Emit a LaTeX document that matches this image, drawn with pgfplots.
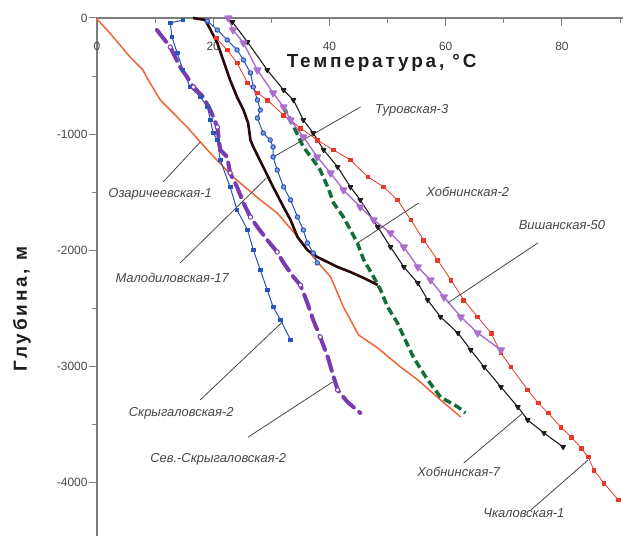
\documentclass[border=0pt]{standalone}
\usepackage{pgfplots}
\pgfplotsset{compat=1.18}
\usepackage{fontspec}
\setmainfont{Liberation Sans}
\definecolor{axgray}{RGB}{125,125,125}
\definecolor{txgray}{RGB}{70,70,70}
\definecolor{cOrange}{RGB}{240,100,55}
\definecolor{cBlue}{RGB}{40,85,185}
\definecolor{cBlueL}{RGB}{130,160,225}
\definecolor{cBrown}{RGB}{40,8,8}
\definecolor{cPurD}{RGB}{120,60,175}
\definecolor{cGreen}{RGB}{20,110,60}
\definecolor{cPurL}{RGB}{170,110,205}
\definecolor{cBlack}{RGB}{30,30,30}
\definecolor{cRed}{RGB}{235,55,40}
\begin{document}
\begin{tikzpicture}
\begin{axis}[
  scale only axis, width=526bp, height=518bp,
  xmin=0, xmax=90.5, ymin=-4458, ymax=0,
  axis x line=top, axis y line=left,
  axis line style={-, draw=axgray, line width=1.2bp},
  clip=false,
  xtick={0,20,40,60,80}, minor xtick={10,30,50,70,90},
  ytick={0,-1000,-2000,-3000,-4000}, minor ytick={-500,-1500,-2500,-3500},
  tick align=inside, major tick length=8bp, minor tick length=5.5bp,
  tick style={draw=axgray, line width=1bp},
  major y tick style={xshift=-8bp},
  minor y tick style={xshift=-5.5bp},
  /pgf/number format/assume math mode=true,
  /pgf/number format/1000 sep={},
  scaled y ticks=false,
  tick label style={font=\fontsize{12}{14}\selectfont, text=txgray},
  xticklabel style={anchor=north, yshift=-21bp},
  yticklabel style={xshift=-6bp},
  every axis plot/.append style={line join=round},
]
% Озаричеевская-1
\addplot[cOrange, line width=1.5bp, no marks] coordinates {
(0,0) (0,-9) (2.2,-129) (5.7,-336) (7.9,-447) (8.6,-516) (10.9,-706) (15.5,-938)
(19.0,-1136) (23.4,-1368) (28.1,-1566) (31.0,-1678) (35.0,-1911) (37.2,-2057)
(40.2,-2229) (42.4,-2487) (45.0,-2728) (48.3,-2840) (52.2,-3003) (55.2,-3115)
(59.1,-3287) (62.6,-3434)};
% Чкаловская-1
\addplot[cRed, line width=0.8bp, mark=square*, mark size=1.9bp] coordinates {
(20.5,-172) (22.4,-275) (24.1,-387) (25.9,-559) (27.6,-645) (29.3,-706) (32.1,-835)
(35.0,-947) (37.9,-1050) (40.7,-1136) (43.6,-1222) (46.6,-1368) (49.3,-1454)
(51.7,-1566) (54.0,-1738) (56.2,-1911) (58.6,-2083) (60.9,-2255) (63.1,-2427)
(65.5,-2573) (67.8,-2711) (69.5,-2883) (71.2,-3003) (74.1,-3201) (75.9,-3313)
(77.6,-3399) (79.8,-3520) (81.6,-3606) (83.3,-3701) (84.5,-3778) (85.5,-3890)
(87.2,-4002) (89.7,-4148)};
% Хобнинская-7
\addplot[cBlack, line width=1.1bp, mark=triangle*, mark size=2.6bp, mark options={rotate=180}] coordinates {
(23.3,-34) (25.9,-207) (29.3,-448) (32.1,-620) (33.8,-706) (35.5,-878) (37.2,-990)
(39.0,-1136) (41.4,-1282) (43.6,-1454) (45.3,-1566) (48.3,-1799) (50.5,-1971)
(52.8,-2143) (55.2,-2281) (56.9,-2427) (59.1,-2573) (62.1,-2711) (64.3,-2857)
(66.6,-3003) (69.5,-3176) (72.4,-3348) (74.1,-3460) (76.9,-3571) (80.2,-3692)};
% Хобнинская-2
\addplot[cGreen, line width=3.5bp, dash pattern=on 8bp off 4bp, no marks] coordinates {
(32.0,-760) (33.3,-878) (35.5,-1110) (37.2,-1222) (38.4,-1308)
(39.7,-1454) (40.7,-1592) (42.4,-1713) (43.6,-1824) (44.8,-1936) (45.9,-2083)
(47.6,-2229) (48.8,-2341) (50.0,-2487) (51.7,-2625) (52.8,-2745) (54.5,-2926)
(56.9,-3115) (59.1,-3262) (62.1,-3348) (63.4,-3399)};
% Скрыгаловская-2
\addplot[cBlue, line width=1bp, mark=square*, mark size=1.9bp] coordinates {
(14.8,-17) (12.6,-43) (12.9,-164) (13.8,-301) (14.8,-448) (16.0,-594) (17.8,-680)
(19.0,-766) (19.5,-878) (20.0,-990) (20.7,-1050) (21.2,-1222) (22.9,-1454)
(24.1,-1652) (25.9,-1824) (26.9,-1997) (28.1,-2169) (29.3,-2341) (30.3,-2487)
(31.6,-2599) (33.3,-2771)};
% Сев.-Скрыгаловская-2
\addplot[cPurD, line width=4bp, dash pattern=on 15bp off 7bp, line cap=round,
  mark=*, mark size=2.2bp, mark repeat=3, mark phase=2,
  mark options={solid, fill=white, draw=cPurD, line width=1bp}] coordinates {
(10.3,-103) (12.6,-250) (14.3,-422) (15.5,-508) (16.6,-594) (18.3,-680) (19.5,-792)
(20.7,-938) (21.2,-1136) (22.4,-1196) (22.9,-1334) (24.1,-1454) (25.2,-1592)
(26.4,-1713) (27.6,-1799) (29.3,-1911) (31.0,-2014) (32.1,-2108) (33.8,-2229)
(35.0,-2298) (36.2,-2453) (37.2,-2599) (38.4,-2745) (39.7,-2917) (40.2,-3003)
(41.4,-3201) (43.1,-3305) (45.3,-3399)};
% Малодиловская-17
\addplot[cBrown, line width=2.6bp, no marks] coordinates {
(16.5,0) (18.6,-17) (19.1,-60) (20.7,-215) (21.7,-361) (22.9,-534) (24.1,-680)
(25.2,-792) (26.0,-904) (26.4,-1050) (26.9,-1110) (28.6,-1282) (30.3,-1454)
(32.1,-1627) (33.3,-1738) (34.5,-1885) (36.2,-1997) (37.9,-2057) (41.4,-2143)
(43.6,-2186) (45.9,-2238) (48.3,-2298)};
% Туровская-3
\addplot[cBlue, line width=1bp, mark=*, mark size=2.2bp, mark options={fill=cBlueL, draw=cBlue}] coordinates {
(19.0,-26) (20.7,-103) (22.4,-189) (24.1,-275) (25.2,-361) (26.4,-473) (26.9,-594)
(27.6,-706) (28.1,-792) (27.6,-861) (28.6,-990) (29.8,-1050) (30.3,-1110)
(30.3,-1196) (31.0,-1308) (32.1,-1454) (33.3,-1566) (34.5,-1713) (35.5,-1824)
(36.2,-1936) (37.2,-2022) (37.9,-2108)};
% Вишанская-50
\addplot[cPurL, line width=1.4bp, mark=triangle*, mark size=3.8bp, mark options={rotate=180}] coordinates {
(22.6,0) (23.4,-103) (25.2,-215) (27.6,-448) (30.3,-645) (32.1,-766) (33.3,-878)
(35.5,-1024) (37.9,-1196) (40.2,-1334) (42.4,-1480) (45.3,-1627) (47.6,-1738)
(50.5,-1850) (52.8,-1971) (55.2,-2143) (57.4,-2255) (59.7,-2401) (62.6,-2573)
(65.5,-2711) (69.5,-2857)};

% leader lines
\begin{scope}[draw=txgray, line width=0.8bp]
\draw (axis cs:30.34,-1196) -- (axis cs:45.34,-766);
\draw (axis cs:11.38,-1411) -- (axis cs:17.76,-1067);
\draw (axis cs:14.31,-2108) -- (axis cs:29.14,-1377);
\draw (axis cs:44.83,-1936) -- (axis cs:55.34,-1592);
\draw (axis cs:60.34,-2453) -- (axis cs:75.86,-1936);
\draw (axis cs:17.76,-3287) -- (axis cs:31.90,-2616);
\draw (axis cs:26.03,-3606) -- (axis cs:40.52,-3133);
\draw (axis cs:63.10,-3830) -- (axis cs:73.28,-3399);
\draw (axis cs:74.66,-4234) -- (axis cs:84.48,-3804);
\end{scope}
% labels
\begin{scope}[every node/.style={text=txgray, font=\fontsize{13}{15}\selectfont\itshape, inner sep=0pt}]
\node at (axis cs:54.14,-792) {Туровская-3};
\node at (axis cs:10.86,-1515) {Озаричеевская-1};
\node at (axis cs:12.93,-2238) {Малодиловская-17};
\node at (axis cs:63.79,-1497) {Хобнинская-2};
\node at (axis cs:80.0,-1781) {Вишанская-50};
\node at (axis cs:14.48,-3399) {Скрыгаловская-2};
\node at (axis cs:20.86,-3795) {Сев.-Скрыгаловская-2};
\node at (axis cs:62.24,-3907) {Хобнинская-7};
\node at (axis cs:73.45,-4260) {Чкаловская-1};
\end{scope}
\node[font=\fontsize{19}{22}\selectfont\bfseries\addfontfeatures{LetterSpace=15}, text=cBlack, inner sep=0pt]
  at (axis cs:48.97,-387) {Температура, °C};
\node[font=\fontsize{19}{22}\selectfont\bfseries\addfontfeatures{LetterSpace=15}, text=cBlack, inner sep=0pt, rotate=90]
  at (axis cs:-12.93,-2504) {Глубина, м};
\end{axis}
\pgfresetboundingbox
\path ([xshift=-97bp]current axis.south west) rectangle ([yshift=18bp]current axis.north east);
\end{tikzpicture}
\end{document}
